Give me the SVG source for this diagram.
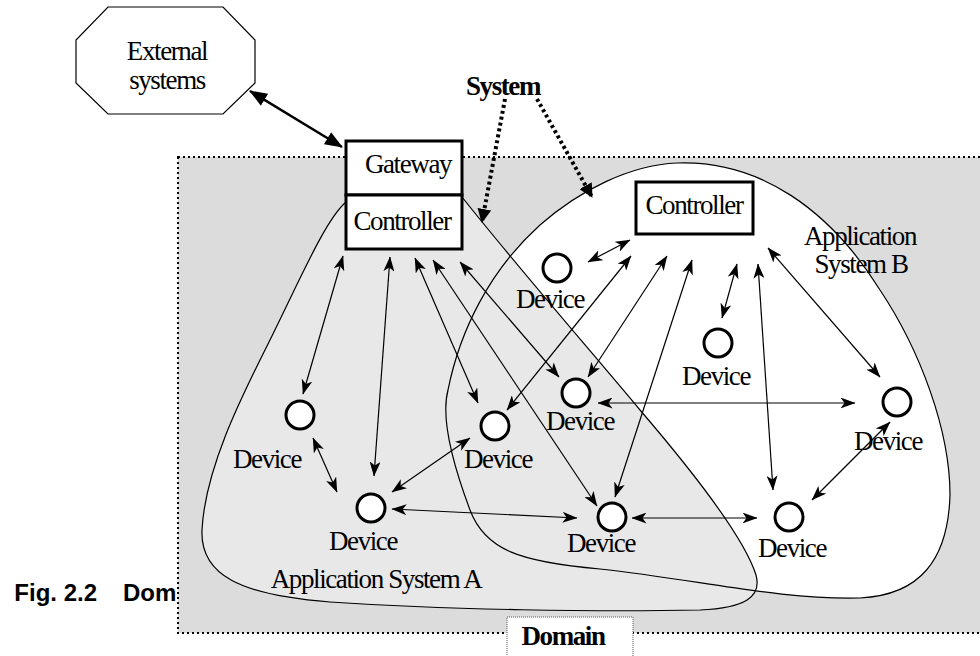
<svg xmlns="http://www.w3.org/2000/svg" width="980" height="656" viewBox="0 0 980 656">
<style>
.t{font-family:"Liberation Serif","Times New Roman",serif;font-size:27px;letter-spacing:-1.4px;fill:#000;text-anchor:middle}
.b{font-weight:bold}
.fig{font-family:"Liberation Sans",Arial,sans-serif;font-size:24px;font-weight:bold;fill:#000}
.ln{stroke:#000;stroke-width:1.2;fill:none;marker-start:url(#ah);marker-end:url(#ah)}
.dev{fill:#fff;stroke:#000;stroke-width:3}
.box{fill:#fff;stroke:#000;stroke-width:3}
</style>
<defs>
<marker id="ah" viewBox="0 0 15 11" refX="14.5" refY="5.5" markerWidth="15" markerHeight="11" orient="auto-start-reverse" markerUnits="userSpaceOnUse"><path d="M0,0 L15,5.5 L0,11 L4,5.5 Z" fill="#000"/></marker>
<marker id="big" viewBox="0 0 18 14" refX="17" refY="7" markerWidth="18" markerHeight="14" orient="auto-start-reverse" markerUnits="userSpaceOnUse"><path d="M0,0 L18,7 L0,14 Z" fill="#000"/></marker>
<marker id="dot" viewBox="0 0 14 14" refX="13" refY="7" markerWidth="14" markerHeight="14" orient="auto" markerUnits="userSpaceOnUse"><path d="M0,0 L14,7 L0,14 Z" fill="#000"/></marker>
</defs>
<g id="caption">
<text class="fig" x="97" y="601" text-anchor="end">Fig. 2.2</text>
<text class="fig" x="123" y="601">Dom</text>
</g>
<g id="domain">
<rect x="178" y="157" width="810" height="476" fill="#dcdcdc" stroke="#000" stroke-width="2" stroke-dasharray="2 3"/>
</g>
<g id="appB-fill"><path d="M677,163 C 760,160 830,210 880,290 C 920,350 950,430 950,495 C 948,560 920,595 860,598 C 780,600 700,580 600,569 C 520,562 485,550 470,510 C 455,470 440,420 448,390 C 460,330 490,270 540,225 C 580,190 630,165 677,163 Z" fill="#fff"/></g>
<g id="appA-fill"><path d="M346,202 C 325,220 300,280 265,350 C 240,400 205,470 202,530 C 200,575 240,595 330,602 C 450,610 600,612 700,610 C 745,608 762,597 756,575 C 745,540 700,480 640,410 C 590,350 520,270 462,197 Z" fill="#e8e8e8"/></g>
<g id="outlines" fill="none" stroke="#000" stroke-width="1.2">
<path d="M677,163 C 760,160 830,210 880,290 C 920,350 950,430 950,495 C 948,560 920,595 860,598 C 780,600 700,580 600,569 C 520,562 485,550 470,510 C 455,470 440,420 448,390 C 460,330 490,270 540,225 C 580,190 630,165 677,163 Z"/>
<path d="M346,202 C 325,220 300,280 265,350 C 240,400 205,470 202,530 C 200,575 240,595 330,602 C 450,610 600,612 700,610 C 745,608 762,597 756,575 C 745,540 700,480 640,410 C 590,350 520,270 462,197 Z"/>
</g>
<g id="domain-label">
<rect x="507" y="617" width="126" height="45" fill="#fff" stroke="#555" stroke-width="1" stroke-dasharray="1 1"/>
<text class="t b" x="563" y="645">Domain</text>
</g>
<g id="labels">
<text class="t" x="376" y="588">Application System A</text>
<text class="t" x="860" y="245">Application</text>
<text class="t" x="861" y="273">System B</text>
</g>
<g id="connectors">
<line class="ln" x1="343" y1="256" x2="303" y2="394"/>
<line class="ln" x1="390" y1="257" x2="374" y2="476"/>
<line class="ln" x1="415" y1="258" x2="478" y2="403"/>
<line class="ln" x1="433" y1="260" x2="597" y2="506"/>
<line class="ln" x1="460" y1="262" x2="559" y2="377"/>
<line class="ln" x1="588" y1="262" x2="630" y2="240"/>
<line class="ln" x1="631" y1="256" x2="507" y2="410"/>
<line class="ln" x1="667" y1="256" x2="588" y2="377"/>
<line class="ln" x1="692" y1="260" x2="615" y2="497"/>
<line class="ln" x1="737" y1="264" x2="722" y2="318"/>
<line class="ln" x1="758" y1="264" x2="773" y2="490"/>
<line class="ln" x1="768" y1="248" x2="880" y2="377"/>
<line class="ln" x1="313" y1="438" x2="337" y2="492"/>
<line class="ln" x1="392" y1="492" x2="470" y2="438"/>
<line class="ln" x1="392" y1="509" x2="577" y2="518"/>
<line class="ln" x1="598" y1="403" x2="855" y2="403"/>
<line class="ln" x1="632" y1="518" x2="757" y2="518"/>
<line class="ln" x1="812" y1="500" x2="890" y2="422"/>
<line x1="250" y1="91" x2="342" y2="147" stroke="#000" stroke-width="2.5" marker-start="url(#big)" marker-end="url(#big)"/>
<line x1="505" y1="99" x2="482" y2="222" stroke="#000" stroke-width="4" stroke-dasharray="3 3" marker-end="url(#dot)"/>
<line x1="537" y1="99" x2="592" y2="197" stroke="#000" stroke-width="4" stroke-dasharray="3 3" marker-end="url(#dot)"/>
</g>
<g id="external">
<polygon points="108,7 223,7 255,40 255,83 223,114 108,114 76,83 76,40" fill="#fff" stroke="#000" stroke-width="1.2"/>
<text class="t" x="167" y="60">External</text>
<text class="t" x="167" y="89">systems</text>
</g>
<g id="system-label"><text class="t b" x="503" y="95">System</text></g>
<g id="gateway">
<rect class="box" x="346" y="141" width="116" height="54"/>
<text class="t" x="408" y="173">Gateway</text>
</g>
<g id="controllerA">
<rect class="box" x="346" y="195" width="116" height="54"/>
<text class="t" x="402" y="230">Controller</text>
</g>
<g id="controllerB">
<rect class="box" x="636" y="182" width="117" height="52"/>
<text class="t" x="694" y="214">Controller</text>
</g>
<g id="d1"><circle class="dev" cx="300" cy="415" r="14"/><text class="t" x="267" y="468">Device</text></g>
<g id="d2"><circle class="dev" cx="371" cy="508" r="14"/><text class="t" x="363" y="550">Device</text></g>
<g id="d3"><circle class="dev" cx="495" cy="426" r="14"/><text class="t" x="498" y="468">Device</text></g>
<g id="d4"><circle class="dev" cx="576" cy="393" r="14"/><text class="t" x="580" y="430">Device</text></g>
<g id="d5"><circle class="dev" cx="612" cy="517" r="14"/><text class="t" x="601" y="552">Device</text></g>
<g id="d6"><circle class="dev" cx="789" cy="517" r="14"/><text class="t" x="792" y="557">Device</text></g>
<g id="d7"><circle class="dev" cx="897" cy="402" r="14"/><text class="t" x="888" y="450">Device</text></g>
<g id="d8"><circle class="dev" cx="718" cy="343" r="14"/><text class="t" x="716" y="385">Device</text></g>
<g id="d9"><circle class="dev" cx="557" cy="268" r="14"/><text class="t" x="550" y="308">Device</text></g>
</svg>
